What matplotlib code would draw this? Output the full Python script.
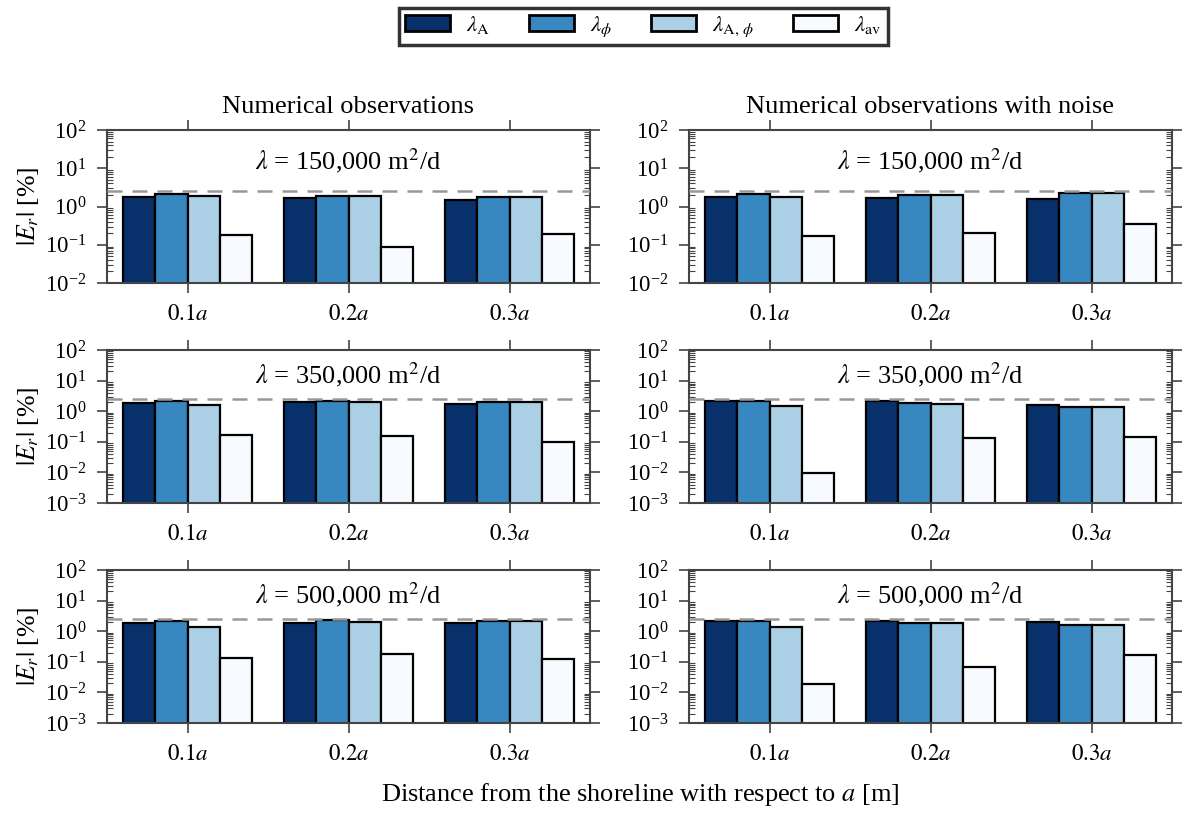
import numpy as np
import matplotlib
import matplotlib.pyplot as plt
from matplotlib.ticker import LogLocator, NullFormatter

matplotlib.use("Agg")

plt.rcParams["font.family"] = ["Liberation Serif", "DejaVu Serif"]
plt.rcParams["mathtext.fontset"] = "stix"

# ── data ─────────────────────────────────────────────────────────────────────
distances = ["$0.1a$", "$0.2a$", "$0.3a$"]
lambda_labels = ["150,000", "350,000", "500,000"]
series_names = [r"$\lambda_{\rm A}$", r"$\lambda_{\phi}$",
                r"$\lambda_{{\rm A},\,\phi}$", r"$\lambda_{\rm av}$"]
threshold = 2.5

# numerical observations (left column), [A, phi, A-phi, av] per distance
clean_150 = [[1.82, 2.14, 1.90, 0.175], [1.68, 1.85, 1.86, 0.087], [1.49, 1.75, 1.79, 0.194]]
clean_350 = [[1.86, 2.16, 1.60, 0.163], [1.96, 2.16, 2.06, 0.155], [1.77, 2.06, 2.06, 0.095]]
clean_500 = [[1.86, 2.12, 1.42, 0.132], [1.86, 2.28, 1.96, 0.178], [1.86, 2.12, 2.12, 0.120]]

# numerical observations with noise (right column)
noisy_150 = [[1.75, 2.06, 1.82, 0.168], [1.65, 1.97, 1.97, 0.200], [1.58, 2.23, 2.23, 0.340]]
noisy_350 = [[2.16, 2.16, 1.53, 0.0095], [2.16, 1.86, 1.77, 0.130], [1.64, 1.35, 1.35, 0.140]]
noisy_500 = [[2.17, 2.12, 1.42, 0.019], [2.12, 1.92, 1.86, 0.068], [2.07, 1.65, 1.60, 0.170]]

colors = ["#08306b", "#3787c0", "#abd0e6", "#f7fbff"]

# ── figure ───────────────────────────────────────────────────────────────────
fig = plt.figure(figsize=(11.98, 8.15), dpi=100)

col_x = [107 / 1198, 689 / 1198]
ax_w = 483 / 1198
row_y = [1 - 283 / 815, 1 - 503 / 815, 1 - 723 / 815]
ax_h = 153 / 815

panels = [[clean_150, noisy_150], [clean_350, noisy_350], [clean_500, noisy_500]]
col_titles = ["Numerical observations", "Numerical observations with noise"]

x = np.arange(len(distances))
bar_w = 0.2
handles = None

for r in range(3):
    for c in range(2):
        ax = fig.add_axes([col_x[c], row_y[r], ax_w, ax_h])
        vals = np.array(panels[r][c])
        bars = []
        for k in range(4):
            b = ax.bar(x - 0.4 + k * bar_w, vals[:, k], width=bar_w, align="edge",
                       color=colors[k], edgecolor="black", linewidth=1.6,
                       label=series_names[k], zorder=2)
            bars.append(b)
        if handles is None:
            handles = bars

        ax.axhline(threshold, color="#999999", linestyle=(0, (6, 4)), linewidth=1.8, zorder=3)
        ax.set_yscale("log")
        ax.set_ylim(1e-2 if r == 0 else 1e-3, 1e2)
        ax.yaxis.set_major_locator(LogLocator(base=10, numticks=12))
        ax.yaxis.set_minor_locator(LogLocator(base=10, subs=np.arange(2, 10), numticks=12))
        ax.yaxis.set_minor_formatter(NullFormatter())
        ax.set_xlim(-0.5, 2.5)
        ax.set_xticks(x)
        ax.set_xticklabels(distances, fontsize=16.5)
        ax.tick_params(axis="y", labelsize=16.5, pad=8)
        ax.tick_params(axis="x", pad=8)
        ax.tick_params(which="major", direction="out", length=7, width=1.2,
                       top=True, right=True, color="#444444")
        ax.tick_params(which="minor", direction="in", length=4, width=0.8,
                       right=True, color="#444444")
        ax.tick_params(axis="x", which="minor", bottom=False, top=False)
        for s in ax.spines.values():
            s.set_color("#444444")
            s.set_linewidth(1.5)

        ax.text(1.0, 10 ** 1.2, r"$\lambda$ = " + lambda_labels[r] + r" m$^2$/d",
                ha="center", va="center", fontsize=19)

        if c == 0:
            ax.set_ylabel(r"$|E_r|$ [%]", fontsize=18.5, labelpad=3)
        if r == 0:
            ax.set_title(col_titles[c], fontsize=19, pad=12)

leg = fig.legend(handles, series_names, loc="center",
                 bbox_to_anchor=(643.5 / 1198, 1 - 26.5 / 815),
                 ncol=4, fontsize=16.5, frameon=True, fancybox=False, edgecolor="black",
                 handlelength=1.96, handleheight=0.7, handletextpad=0.7,
                 columnspacing=1.7, borderpad=0.25)
leg.get_frame().set_linewidth(2.5)
for h in leg.legend_handles:
    h.set_linewidth(2)

fig.text(640 / 1198, 1 - 795 / 815, "Distance from the shoreline with respect to $a$ [m]",
         ha="center", va="center", fontsize=19)

plt.savefig("out.png", dpi=100)
